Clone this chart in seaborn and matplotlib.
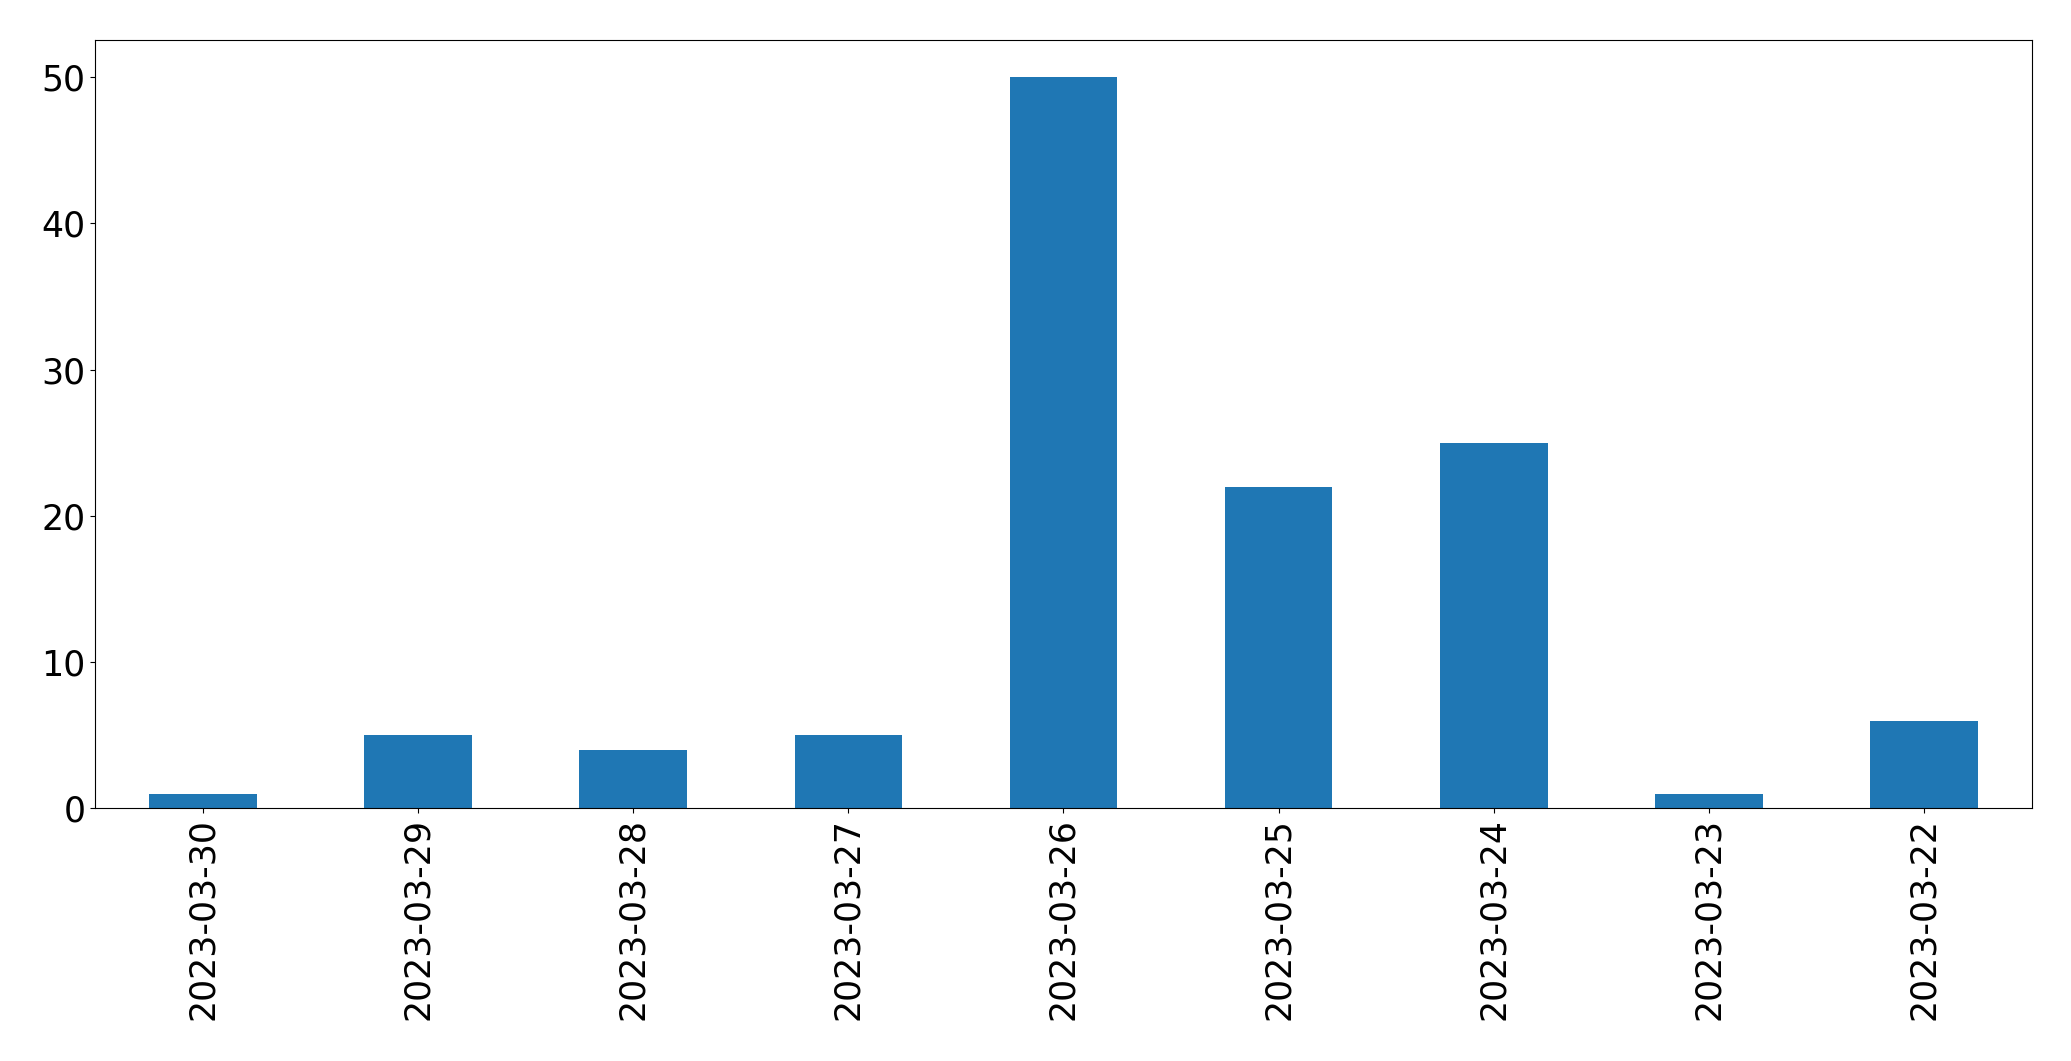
import seaborn as sns
import matplotlib.pyplot as plt
import pandas as pd

dates = ['2023-03-30', '2023-03-29', '2023-03-28', '2023-03-27', '2023-03-26',
         '2023-03-25', '2023-03-24', '2023-03-23', '2023-03-22']
counts = [1, 5, 4, 5, 50, 22, 25, 1, 6]

df = pd.DataFrame({'date': dates, 'count': counts})

fig, ax = plt.subplots(figsize=(20.71, 10.61), dpi=100)
sns.barplot(x='date', y='count', data=df, order=dates, color='#1f77b4',
            saturation=1, width=0.5, linewidth=0, ax=ax)
ax.set_xlim(-0.5, len(dates) - 0.5)
ax.set_xlabel('')
ax.set_ylabel('')
ax.tick_params(axis='both', labelsize=25)
ax.tick_params(axis='x', labelrotation=90)
fig.subplots_adjust(left=0.046, right=0.981, top=0.962, bottom=0.238)
fig.savefig('out.png')
